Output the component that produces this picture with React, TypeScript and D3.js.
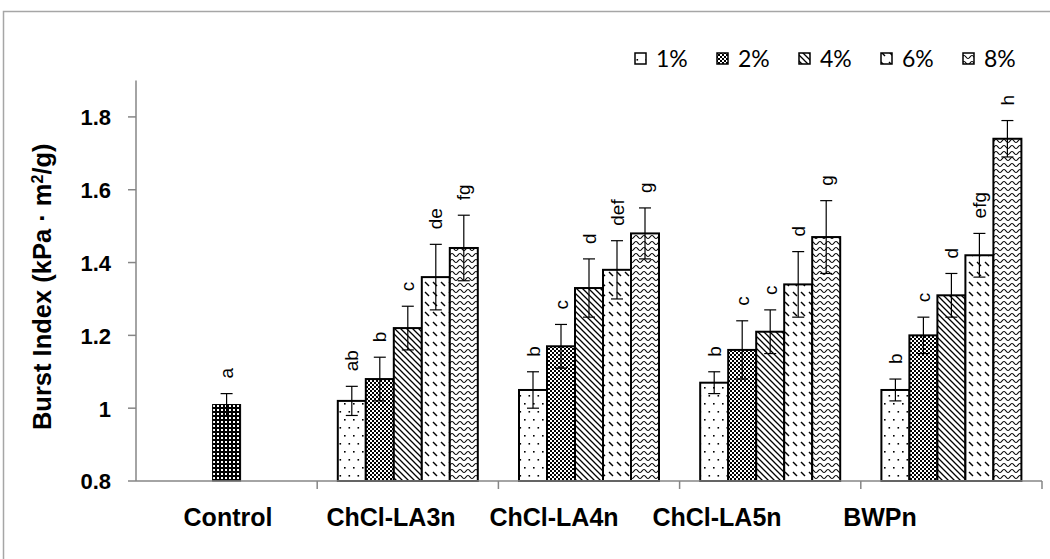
import React from "react";
import * as d3 from "d3";

const categories = ["Control", "ChCl-LA3n", "ChCl-LA4n", "ChCl-LA5n", "BWPn"];
const seriesNames = ["1%", "2%", "4%", "6%", "8%"];
const controlValue = 1.01;
const controlError = 0.03;
const controlLabel = "a";
// values per series for the four treated categories
const s1 = [1.02, 1.05, 1.07, 1.05];
const s2 = [1.08, 1.17, 1.16, 1.20];
const s4 = [1.22, 1.33, 1.21, 1.31];
const s6 = [1.36, 1.38, 1.34, 1.42];
const s8 = [1.44, 1.48, 1.47, 1.74];
const e1 = [0.04, 0.05, 0.03, 0.03];
const e2 = [0.06, 0.06, 0.08, 0.05];
const e4 = [0.06, 0.08, 0.06, 0.06];
const e6 = [0.09, 0.08, 0.09, 0.06];
const e8 = [0.09, 0.07, 0.10, 0.05];
const l1 = ["ab", "b", "b", "b"];
const l2 = ["b", "c", "c", "c"];
const l4 = ["c", "d", "c", "d"];
const l6 = ["de", "def", "d", "efg"];
const l8 = ["fg", "g", "g", "h"];
const yTicks = [0.8, 1, 1.2, 1.4, 1.6, 1.8];

const seriesValues = [s1, s2, s4, s6, s8];
const seriesErrors = [e1, e2, e4, e6, e8];
const seriesLabels = [l1, l2, l4, l6, l8];
const patternIds = ["p1", "p2", "p4", "p6", "p8"];

const AX = "#868686";
const BOLD = "'Liberation Sans', Arial, sans-serif";

export default function App() {
  const left = 136, right = 1042, top = 80.5, bottom = 481;
  const x = d3.scaleBand().domain(categories).range([left, right]);
  // category text labels sit in their own, narrower spread
  const xl = d3.scalePoint().domain(categories).range([228, 880]);
  const y = d3.scaleLinear().domain([0.8, 1.9]).range([bottom, top]);
  const inner = d3.scaleBand().domain(seriesNames).range([0, 140]);
  const bw = inner.bandwidth();
  const off = (x.bandwidth() - 140) / 2;

  const bars: any[] = [];
  categories.slice(1).forEach((c, ci) => {
    seriesNames.forEach((s, si) => {
      const v = seriesValues[si][ci];
      const e = seriesErrors[si][ci];
      const bx = (x(c) as number) + off + (inner(s) as number);
      bars.push({ key: c + s, bx, v, e, lab: seriesLabels[si][ci], pid: patternIds[si] });
    });
  });
  const cbx = (x("Control") as number) + x.bandwidth() / 2 - bw / 2;
  bars.push({ key: "control", bx: cbx, v: controlValue, e: controlError, lab: controlLabel, pid: "pc" });

  return (
    <svg width={1050} height={559} style={{ position: "fixed", left: 0, top: 0, background: "#fff" }}>
      <defs>
        <pattern id="p1" patternUnits="userSpaceOnUse" width={9} height={16}>
          <rect width={9} height={16} fill="#fff" />
          <rect x={2} y={3} width={1.6} height={1.6} fill="#000" />
          <rect x={6.5} y={11} width={1.6} height={1.6} fill="#000" />
        </pattern>
        <pattern id="p2" patternUnits="userSpaceOnUse" width={4} height={4}>
          <rect width={4} height={4} fill="#fff" />
          <rect x={0} y={0} width={2} height={2} fill="#000" />
          <rect x={2} y={2} width={2} height={2} fill="#000" />
        </pattern>
        <pattern id="p4" patternUnits="userSpaceOnUse" width={6} height={6}>
          <rect width={6} height={6} fill="#fff" />
          <path d="M-1,-1 L7,7 M-4,2 L2,8 M4,-2 L8,2" stroke="#000" strokeWidth={1.3} />
        </pattern>
        <pattern id="p6" patternUnits="userSpaceOnUse" width={8} height={10}>
          <rect width={8} height={10} fill="#fff" />
          <path d="M1,2 L5,6" stroke="#000" strokeWidth={1.4} />
        </pattern>
        <pattern id="p8" patternUnits="userSpaceOnUse" width={8} height={6}>
          <rect width={8} height={6} fill="#fff" />
          <path d="M0,4.5 C2,4.5 2,1.5 4,1.5 C6,1.5 6,4.5 8,4.5" stroke="#000" strokeWidth={1.2} fill="none" />
        </pattern>
        <pattern id="pc" patternUnits="userSpaceOnUse" width={4} height={4}>
          <rect width={4} height={4} fill="#000" />
          <rect x={1} y={1} width={2} height={2} fill="#fff" />
        </pattern>
      </defs>

      <rect x={3.5} y={11.5} width={1100} height={600} fill="none" stroke="#a6a6a6" strokeWidth={1.5} />

      {/* y axis */}
      <line x1={left} x2={left} y1={top} y2={bottom} stroke={AX} strokeWidth={1.5} />
      {yTicks.map((t) => (
        <g key={t}>
          <line x1={left - 8} x2={left} y1={y(t)} y2={y(t)} stroke={AX} strokeWidth={1.5} />
          <text x={left - 25} y={y(t)} dy="0.38em" textAnchor="end" fontFamily={BOLD} fontWeight="bold" fontSize={22} fill="#000">
            {String(t)}
          </text>
        </g>
      ))}
      <text transform={`translate(42,${(top + bottom) / 2 + 6}) rotate(-90)`} textAnchor="middle" dy="0.36em" fontFamily={BOLD} fontWeight="bold" fontSize={25.5} fill="#000">
        Burst Index (kPa · m<tspan dy="-8" fontSize={16}>2</tspan><tspan dy="8">/g)</tspan>
      </text>

      {/* bars */}
      {bars.map((b) => (
        <rect key={b.key} x={b.bx} y={y(b.v)} width={bw} height={bottom - y(b.v)} fill={`url(#${b.pid})`} stroke="#000" strokeWidth={b.pid === "pc" ? 1 : 2} />
      ))}

      {/* x axis */}
      <line x1={left} x2={right} y1={bottom} y2={bottom} stroke={AX} strokeWidth={1.5} />
      {categories.map((c) => (
        <line key={c} x1={(x(c) as number) + x.bandwidth()} x2={(x(c) as number) + x.bandwidth()} y1={bottom} y2={bottom + 8} stroke={AX} strokeWidth={1.5} />
      ))}
      {categories.map((c) => (
        <text key={c} x={xl(c) as number} y={526} textAnchor="middle" fontFamily={BOLD} fontWeight="bold" fontSize={25} fill="#000">
          {c}
        </text>
      ))}

      {/* error bars and letters */}
      {bars.map((b) => {
        const cx = b.bx + bw / 2;
        const yt = y(b.v + b.e), yb = y(b.v - b.e);
        return (
          <g key={"e" + b.key}>
            <line x1={cx} x2={cx} y1={yt} y2={yb} stroke="#000" strokeWidth={1.2} />
            <line x1={cx - 6} x2={cx + 6} y1={yt} y2={yt} stroke="#000" strokeWidth={1.2} />
            <line x1={cx - 6} x2={cx + 6} y1={yb} y2={yb} stroke="#000" strokeWidth={1.2} />
            <text transform={`translate(${cx},${yt - 15}) rotate(-90)`} dy="0.35em" textAnchor="start" fontFamily="'Liberation Sans', Arial, sans-serif" fontSize={19} fill="#000">
              {b.lab}
            </text>
          </g>
        );
      })}

      {/* legend */}
      {seriesNames.map((s, i) => {
        const lx = 635 + i * 82;
        return (
          <g key={s}>
            <rect x={lx} y={53} width={11} height={11} fill={`url(#${patternIds[i]})`} stroke="#000" strokeWidth={1.5} />
            <text x={lx + 21} y={67} fontFamily="Lato, 'Open Sans', sans-serif" fontSize={23} fill="#000">
              {s}
            </text>
          </g>
        );
      })}
    </svg>
  );
}
